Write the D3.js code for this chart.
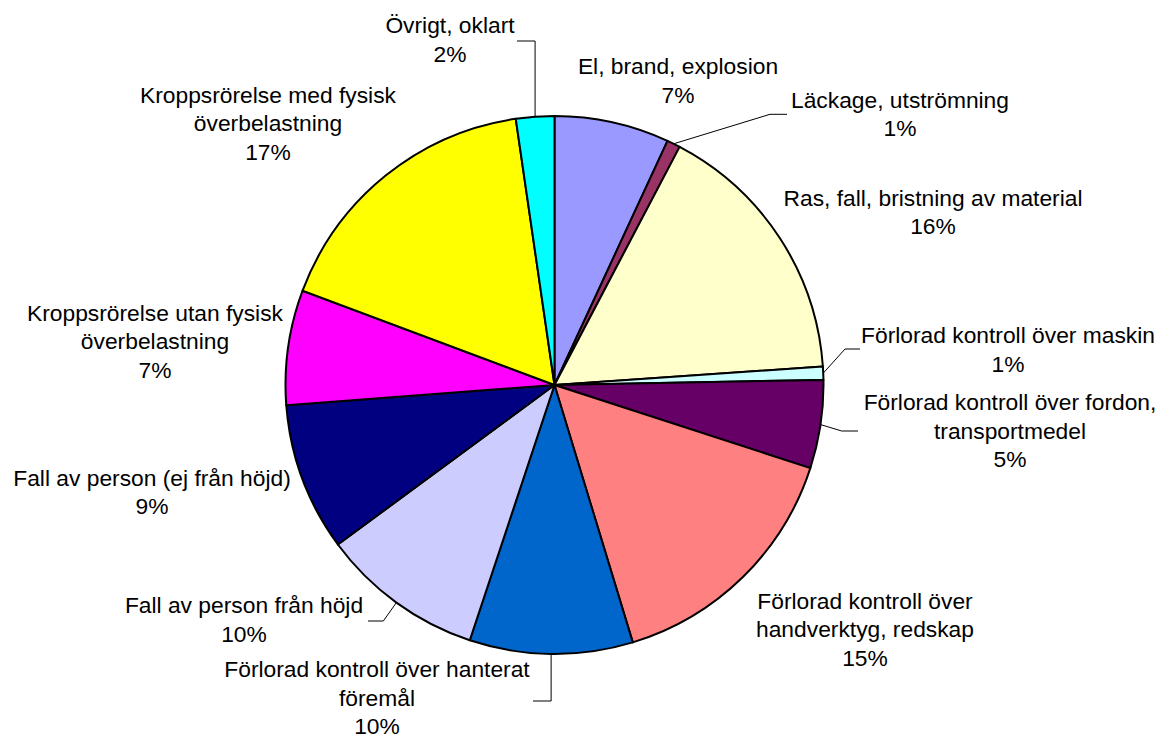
<!DOCTYPE html>
<html>
<head>
<meta charset="utf-8">
<script src="https://cdn.jsdelivr.net/npm/d3@7/dist/d3.min.js"></script>
<style>
  html, body { margin: 0; padding: 0; background: #ffffff; }
  svg { display: block; }
  text { font-family: "Liberation Sans", Arial, sans-serif; fill: #000; }
</style>
</head>
<body>
<svg id="chart" width="1163" height="740"></svg>
<script>
// ---- data ----
const categories = [
  "El, brand, explosion",
  "Läckage, utströmning",
  "Ras, fall, bristning av material",
  "Förlorad kontroll över maskin",
  "Förlorad kontroll över fordon, transportmedel",
  "Förlorad kontroll över handverktyg, redskap",
  "Förlorad kontroll över hanterat föremål",
  "Fall av person från höjd",
  "Fall av person (ej från höjd)",
  "Kroppsrörelse utan fysisk överbelastning",
  "Kroppsrörelse med fysisk överbelastning",
  "Övrigt, oklart"
];
const values = [6.9, 0.8, 16.2, 0.8, 5.3, 15.3, 9.8, 9.8, 8.9, 6.9, 17.0, 2.3];
// label text broken into lines as in the chart
const labelLines = [
  ["El, brand, explosion"],
  ["Läckage, utströmning"],
  ["Ras, fall, bristning av material"],
  ["Förlorad kontroll över maskin"],
  ["Förlorad kontroll över fordon,", "transportmedel"],
  ["Förlorad kontroll över", "handverktyg, redskap"],
  ["Förlorad kontroll över hanterat", "föremål"],
  ["Fall av person från höjd"],
  ["Fall av person (ej från höjd)"],
  ["Kroppsrörelse utan fysisk", "överbelastning"],
  ["Kroppsrörelse med fysisk", "överbelastning"],
  ["Övrigt, oklart"]
];
const colors = ["#9999FF", "#993366", "#FFFFCC", "#CCFFFF", "#660066", "#FF8080",
                "#0066CC", "#CCCCFF", "#000080", "#FF00FF", "#FFFF00", "#00FFFF"];

// ---- layout (label placement: centre x, first baseline y, leader style) ----
const labelLayout = [
  { x: 678,  y: 74,    leader: null },
  { x: 900,  y: 107.5, leader: { type: "elbow", bend: [770, 114.3], end: [787, 114.3] } },
  { x: 933,  y: 205.5, leader: null },
  { x: 1008, y: 343.3, leader: { type: "elbow", bend: [845, 349], end: [860, 349] } },
  { x: 1010, y: 410,   leader: { type: "elbow", bend: [841.7, 431], end: [858, 431] } },
  { x: 865,  y: 608.5, leader: null },
  { x: 377,  y: 677,   leader: { type: "vert", y: 701, endX: 533 } },
  { x: 244,  y: 613.3, leader: { type: "elbow", bend: [383.3, 621], end: [368, 621] } },
  { x: 152,  y: 485.5, leader: null },
  { x: 155,  y: 320.5, leader: null },
  { x: 268,  y: 102.5, leader: null },
  { x: 450,  y: 33.3,  leader: { type: "vert", y: 41, endX: 517 } }
];

const width = 1163, height = 740;
const cx = 554.5, cy = 385, radius = 269;
const fontSize = 22.8, lineHeight = 28.6;

const svg = d3.select("#chart");
const g = svg.append("g").attr("transform", `translate(${cx},${cy})`);

const data = categories.map((c, i) => ({ name: c, value: values[i], i }));
const total = d3.sum(values);
const pie = d3.pie().value(d => d.value).sort(null);
const arcs = pie(data);
const arc = d3.arc().innerRadius(0).outerRadius(radius);
const edgeArc = d3.arc().innerRadius(radius).outerRadius(radius);

g.selectAll("path.slice")
  .data(arcs)
  .join("path")
  .attr("class", "slice")
  .attr("d", arc)
  .attr("fill", d => colors[d.data.i])
  .attr("stroke", "#000")
  .attr("stroke-width", 2)
  .attr("stroke-linejoin", "round");

const pct = d3.format(".0%");

// leader lines
arcs.forEach(a => {
  const L = labelLayout[a.data.i];
  if (!L.leader) return;
  const p = edgeArc.centroid(a);
  const sx = p[0] + cx, sy = p[1] + cy;
  let pts;
  if (L.leader.type === "elbow") {
    pts = [[sx, sy], L.leader.bend, L.leader.end];
  } else {
    pts = [[sx, sy], [sx, L.leader.y], [L.leader.endX, L.leader.y]];
  }
  svg.append("path")
    .attr("d", d3.line()(pts))
    .attr("fill", "none")
    .attr("stroke", "#000")
    .attr("stroke-width", 1);
});

// labels
arcs.forEach(a => {
  const i = a.data.i;
  const L = labelLayout[i];
  const lines = labelLines[i].concat([pct(a.data.value / total)]);
  const t = svg.append("text")
    .attr("text-anchor", "middle")
    .attr("font-size", fontSize);
  lines.forEach((ln, k) => {
    t.append("tspan")
      .attr("x", L.x)
      .attr("y", L.y + k * lineHeight)
      .text(ln);
  });
});
</script>
</body>
</html>
